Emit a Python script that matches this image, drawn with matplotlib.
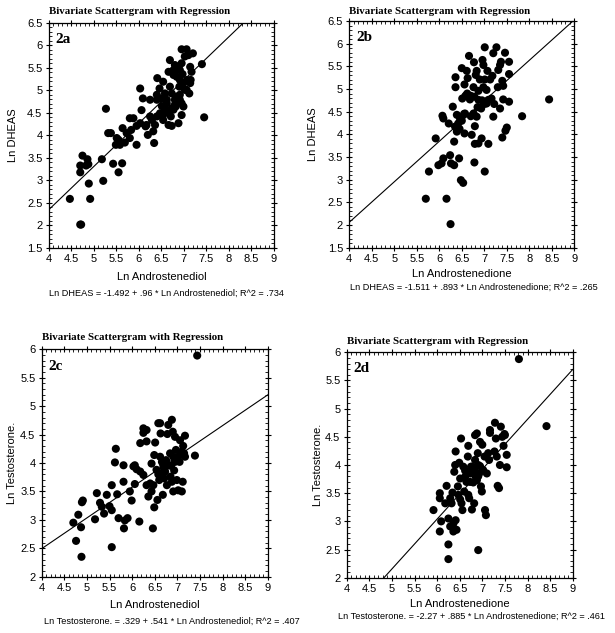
import matplotlib
matplotlib.use("Agg")
import matplotlib.pyplot as plt
from matplotlib.ticker import MultipleLocator
import numpy as np

# ---------------- data ----------------
# Panel 2a: Ln Androstenediol vs Ln DHEAS
a_x = [4.47, 4.70, 4.72, 4.70, 4.70, 4.75, 4.86, 4.88, 4.83, 4.89, 4.92, 5.18, 5.21, 5.27, 5.32,
       5.38, 5.43, 5.55, 5.63, 5.51, 5.55, 5.49, 5.58, 5.64, 5.69, 5.73, 5.80, 5.88, 5.83, 5.80,
       5.95, 5.95, 6.03, 6.06, 6.09, 6.03, 6.17, 6.20, 6.15, 6.25, 6.25, 6.29, 6.32, 6.34, 6.36,
       6.40, 6.41, 6.46, 6.47, 6.51, 6.51, 6.54, 6.54, 6.58, 6.62, 6.66, 6.69, 6.69, 6.71, 6.73,
       6.73, 6.77, 6.77, 6.80, 6.84, 6.80, 6.80, 6.77, 6.73, 6.84, 6.88, 6.90, 6.91, 6.88, 6.91,
       6.95, 6.95, 6.97, 6.99, 6.99, 6.95, 7.02, 7.06, 7.10, 7.20, 7.06, 7.07, 7.14, 7.12, 7.15,
       7.17, 7.14, 7.40, 7.45, 7.02, 6.84, 6.91, 6.95, 6.66, 6.62, 6.54, 6.40, 6.40, 6.58, 6.66,
       6.82, 6.91]
a_y = [2.59, 2.02, 2.02, 3.33, 3.18, 3.55, 3.47, 3.36, 3.33, 2.93, 2.59, 3.47, 2.99, 4.59, 4.05,
       4.05, 3.37, 3.18, 3.38, 3.94, 3.90, 3.79, 3.79, 4.16, 3.84, 4.05, 4.38, 4.38, 4.12, 3.94,
       3.79, 4.21, 5.04, 4.56, 4.82, 4.27, 4.23, 4.01, 4.20, 4.79, 4.42, 4.34, 4.09, 3.83, 4.23,
       4.79, 5.27, 5.04, 4.49, 4.65, 4.82, 5.19, 4.45, 4.57, 4.79, 5.41, 5.67, 5.08, 4.42, 4.60,
       4.93, 5.45, 5.34, 5.56, 5.30, 4.79, 4.68, 4.57, 4.21, 4.86, 5.52, 5.08, 5.23, 4.27, 4.79,
       4.71, 5.60, 5.36, 5.16, 4.64, 5.91, 5.75, 5.91, 5.78, 5.82, 5.01, 5.23, 5.52, 4.93, 5.23,
       5.41, 5.16, 5.58, 4.40, 5.01, 5.45, 5.45, 4.45, 4.53, 4.71, 4.34, 4.42, 4.90, 4.93, 4.23,
       4.64, 4.90]

# Panel 2b: Ln Androstenedione vs Ln DHEAS
b_x = [5.70, 5.77, 5.92, 5.98, 6.05, 6.09, 6.07, 6.09, 6.16, 6.25, 6.24, 6.26, 6.33, 6.21, 6.30,
       6.33, 6.36, 6.36, 6.39, 6.35, 6.39, 6.42, 6.44, 6.46, 6.50, 6.51, 6.48, 6.53, 6.56, 6.56,
       6.61, 6.61, 6.57, 6.63, 6.68, 6.66, 6.70, 6.72, 6.76, 6.78, 6.77, 6.76, 6.78, 6.79, 6.79,
       6.81, 6.83, 6.83, 6.87, 6.87, 6.87, 6.90, 6.93, 6.94, 6.96, 6.98, 6.98, 7.00, 7.01, 7.01,
       7.01, 7.05, 7.05, 7.07, 7.09, 7.09, 7.13, 7.16, 7.18, 7.20, 7.20, 7.22, 7.27, 7.30, 7.31,
       7.35, 7.35, 7.37, 7.40, 7.40, 7.42, 7.42, 7.46, 7.47, 7.50, 7.55, 7.55, 7.55, 7.84, 8.44,
       6.45, 6.50, 6.58, 6.62, 6.70, 6.85, 6.95, 7.05, 6.40, 6.55]
b_y = [2.58, 3.18, 3.91, 3.32, 3.36, 3.47, 4.41, 4.35, 2.58, 2.02, 3.54, 3.36, 3.32, 4.24, 4.61,
       3.84, 5.26, 5.04, 4.43, 4.17, 4.06, 4.24, 3.47, 4.35, 5.46, 4.79, 2.99, 2.93, 5.10, 4.02,
       5.40, 4.87, 4.46, 5.24, 4.77, 5.73, 4.40, 3.99, 5.04, 4.83, 5.59, 4.46, 3.38, 4.18, 3.79,
       5.31, 4.39, 5.40, 4.96, 4.76, 3.80, 5.21, 4.57, 3.91, 5.64, 5.53, 5.04, 4.67, 5.92, 5.21,
       3.18, 4.98, 4.68, 5.40, 4.76, 3.79, 5.21, 4.79, 5.29, 5.79, 4.39, 4.67, 5.92, 5.04, 5.42,
       5.53, 4.57, 5.60, 5.18, 3.93, 5.07, 4.77, 5.80, 4.08, 4.15, 5.60, 5.33, 4.72, 4.40, 4.77,
       4.12, 4.30, 4.85, 4.90, 4.85, 4.60, 4.75, 4.72, 4.10, 4.45]

# Panel 2c: Ln Androstenediol vs Ln Testosterone
c_x = [4.70, 4.76, 4.81, 4.87, 4.88, 4.89, 4.91, 5.18, 5.22, 5.29, 5.33, 5.38, 5.44, 5.50, 5.55,
       5.55, 5.55, 5.62, 5.64, 5.67, 5.70, 5.81, 5.81, 5.82, 5.84, 5.90, 5.95, 5.99, 6.03, 6.06,
       6.06, 6.10, 6.16, 6.18, 6.18, 6.25, 6.25, 6.32, 6.32, 6.25, 6.32, 6.36, 6.40, 6.43, 6.43,
       6.46, 6.47, 6.49, 6.51, 6.49, 6.54, 6.56, 6.58, 6.60, 6.62, 6.62, 6.63, 6.65, 6.68, 6.69,
       6.71, 6.73, 6.75, 6.77, 6.78, 6.80, 6.80, 6.84, 6.85, 6.88, 6.88, 6.90, 6.91, 6.91, 6.93,
       6.95, 6.95, 6.97, 6.99, 7.02, 7.02, 7.05, 7.06, 7.10, 7.10, 7.12, 7.13, 7.15, 7.17, 7.17,
       7.39, 7.44, 6.70, 6.58, 6.66, 6.86]
c_y = [2.95, 2.63, 3.09, 2.87, 2.35, 3.31, 3.34, 3.01, 3.47, 3.30, 3.23, 3.11, 3.44, 3.24, 3.61,
       3.17, 2.52, 4.01, 4.25, 3.45, 3.03, 3.96, 3.67, 2.85, 2.99, 3.03, 3.50, 3.34, 3.94, 3.96,
       3.63, 3.89, 2.97, 3.85, 4.35, 4.61, 4.53, 4.58, 4.38, 3.79, 3.61, 3.41, 3.64, 3.99, 3.50,
       2.85, 3.61, 3.22, 4.36, 4.14, 3.88, 3.35, 4.70, 3.70, 4.70, 4.11, 4.52, 3.82, 3.44, 3.96,
       3.73, 3.85, 4.05, 3.61, 4.51, 4.67, 3.96, 4.17, 3.76, 4.76, 3.67, 4.55, 4.11, 3.50, 3.87,
       4.46, 4.02, 4.23, 3.70, 4.11, 3.52, 4.02, 4.40, 4.20, 3.50, 3.67, 4.30, 4.17, 4.48, 4.11,
       4.13, 5.89, 3.92, 3.80, 4.02, 3.95]

# Panel 2d: Ln Androstenedione vs Ln Testosterone
d_x = [5.92, 6.06, 6.06, 6.06, 6.09, 6.18, 6.21, 6.25, 6.25, 6.25, 6.29, 6.29, 6.32, 6.34, 6.36,
       6.36, 6.38, 6.40, 6.41, 6.41, 6.43, 6.46, 6.47, 6.49, 6.51, 6.51, 6.53, 6.54, 6.56, 6.58,
       6.60, 6.62, 6.65, 6.68, 6.69, 6.69, 6.71, 6.73, 6.75, 6.77, 6.80, 6.80, 6.82, 6.84, 6.84,
       6.85, 6.88, 6.88, 6.90, 6.91, 6.91, 6.93, 6.95, 6.97, 6.99, 7.00, 7.02, 7.05, 7.06, 7.08,
       7.10, 7.13, 7.15, 7.17, 7.17, 7.27, 7.28, 7.30, 7.32, 7.34, 7.37, 7.39, 7.41, 7.44, 7.47,
       7.49, 7.50, 7.54, 7.54, 7.81, 8.42, 6.77, 6.84, 6.91, 6.73, 6.62, 6.95]
d_y = [3.20, 3.50, 3.41, 2.82, 3.00, 3.32, 3.63, 2.33, 2.59, 3.05, 2.91, 3.41, 3.32, 3.51, 2.82,
       2.96, 3.88, 4.00, 4.24, 3.02, 2.85, 3.62, 3.47, 4.04, 3.39, 3.76, 4.47, 3.32, 3.20, 3.97,
       3.53, 3.79, 3.70, 4.15, 4.34, 3.47, 3.41, 3.85, 3.97, 3.21, 3.69, 3.91, 3.32, 4.53, 4.09,
       3.80, 4.56, 3.73, 4.21, 4.00, 2.49, 3.85, 4.41, 3.62, 3.53, 4.36, 3.91, 4.15, 3.20, 3.11,
       3.85, 4.21, 4.09, 4.62, 4.57, 4.24, 4.75, 4.47, 4.15, 3.63, 3.59, 4.00, 4.68, 4.50, 4.34,
       4.55, 4.53, 4.18, 3.96, 5.88, 4.69, 3.97, 3.95, 3.80, 3.70, 3.90, 3.98]

# regression coefficients (intercept, slope)
a_fit = (-1.492, 0.96)
b_fit = (-1.511, 0.893)
c_fit = (0.329, 0.541)
d_fit = (-2.27, 0.885)

titles = "Bivariate Scattergram with Regression"
panel_labels = ["2a", "2b", "2c", "2d"]
x_labels = ["Ln Androstenediol", "Ln Androstenedione", "Ln Androstenediol", "Ln Androstenedione"]
y_labels = ["Ln DHEAS", "Ln DHEAS", "Ln Testosterone.", "Ln Testosterone."]
equations = [
    "Ln DHEAS = -1.492 + .96 * Ln Androstenediol; R^2 = .734",
    "Ln DHEAS = -1.511 + .893 * Ln Androstenedione; R^2 = .265",
    "Ln Testosterone. = .329 + .541 * Ln Androstenediol; R^2 = .407",
    "Ln Testosterone. = -2.27 + .885 * Ln Androstenedione; R^2 = .461",
]
x_ticks = [4, 4.5, 5, 5.5, 6, 6.5, 7, 7.5, 8, 8.5, 9]
x_tick_labels = ["4", "4.5", "5", "5.5", "6", "6.5", "7", "7.5", "8", "8.5", "9"]
y_ticks_top = [1.5, 2, 2.5, 3, 3.5, 4, 4.5, 5, 5.5, 6, 6.5]
y_tick_labels_top = ["1.5", "2", "2.5", "3", "3.5", "4", "4.5", "5", "5.5", "6", "6.5"]
y_ticks_bot = [2, 2.5, 3, 3.5, 4, 4.5, 5, 5.5, 6]
y_tick_labels_bot = ["2", "2.5", "3", "3.5", "4", "4.5", "5", "5.5", "6"]

# ---------------- layout ----------------
W, H = 615, 633
fig = plt.figure(figsize=(W / 100, H / 100), dpi=100)
fig.patch.set_facecolor("white")

def box(l, t, r, b):
    return [l / W, 1 - b / H, (r - l) / W, (b - t) / H]

# pixel boxes: left, top, right, bottom
boxes = [(48.7, 22.7, 274, 248), (349.3, 21, 574.3, 247.7),
         (41.7, 349.3, 267.7, 576.7), (346.7, 352.3, 572.7, 577.7)]
ylab_x = [13, 313, 12, 318]
xlab_y = [277, 274, 605, 604]
eq_y = [293, 287, 621, 616]
eq_cx = [166, 474, 172, 472]
title_y = [12, 11, 338, 342]

data = [(a_x, a_y, a_fit, (1.5, 6.5), y_ticks_top, y_tick_labels_top),
        (b_x, b_y, b_fit, (1.5, 6.5), y_ticks_top, y_tick_labels_top),
        (c_x, c_y, c_fit, (2, 6), y_ticks_bot, y_tick_labels_bot),
        (d_x, d_y, d_fit, (2, 6), y_ticks_bot, y_tick_labels_bot)]

sans = "Liberation Sans"
serif = "Liberation Serif"

for i, (xs, ys, fit, ylim, yt, ytl) in enumerate(data):
    l, t, r, b = boxes[i]
    ax = fig.add_axes(box(l, t, r, b))
    ax.scatter(xs, ys, s=34, color="black", edgecolors="none", zorder=3)
    xx = np.linspace(4, 9, 200)
    ax.plot(xx, fit[0] + fit[1] * xx, color="black", lw=0.8, zorder=2)
    ax.set_xlim(4, 9)
    ax.set_ylim(*ylim)
    ax.set_xticks(x_ticks)
    ax.set_xticklabels(x_tick_labels, family=sans, fontsize=8)
    ax.set_yticks(yt)
    ax.set_yticklabels(ytl, family=sans, fontsize=8)
    ax.xaxis.set_minor_locator(MultipleLocator(0.1))
    ax.yaxis.set_minor_locator(MultipleLocator(0.1))
    ax.tick_params(which="major", direction="inout", length=5, width=0.8,
                   top=True, right=True, pad=2)
    ax.tick_params(which="minor", direction="in", length=2.5, width=0.6,
                   top=True, right=True)
    for sp in ax.spines.values():
        sp.set_linewidth(0.9)
    ax.text(0.03, 0.955, panel_labels[i], transform=ax.transAxes, ha="left", va="top",
            family=serif, fontweight="bold", fontsize=11)
    # title
    fig.text(l / W, 1 - title_y[i] / H, titles, ha="left", va="center",
             family=serif, fontweight="bold", fontsize=7.8)
    fig.text(ylab_x[i] / W, 1 - ((t + b) / 2) / H, y_labels[i], rotation=90,
             ha="center", va="center", family=sans, fontsize=8)
    fig.text(((l + r) / 2) / W, 1 - xlab_y[i] / H, x_labels[i], ha="center", va="center",
             family=sans, fontsize=8)
    fig.text(eq_cx[i] / W, 1 - eq_y[i] / H, equations[i], ha="center", va="center",
             family=sans, fontsize=6.6)

fig.savefig("out.png", dpi=100, facecolor="white")
